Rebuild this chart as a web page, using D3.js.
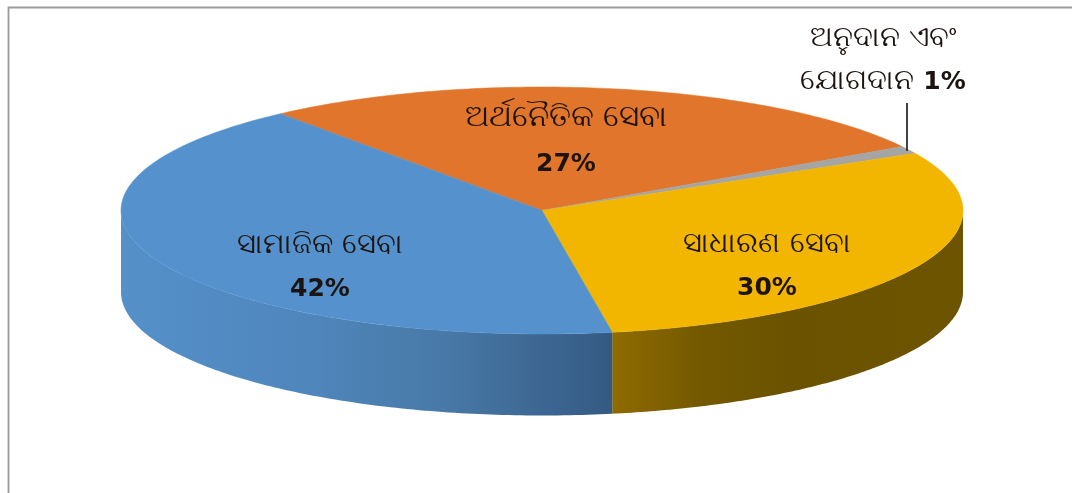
<!DOCTYPE html>
<html><head><meta charset="utf-8">
<style>
html,body{margin:0;background:#fff}
svg{display:block;filter:blur(0.45px)}
text{text-anchor:middle;fill:#1c1410}
.name{font-family:"DejaVu Sans",sans-serif}
.pct{font-family:"DejaVu Sans",sans-serif;font-size:25px;font-weight:700}
</style>
<script src="https://cdn.jsdelivr.net/npm/d3@7"></script></head>
<body><svg id="chart" width="1072" height="493"></svg>
<script>
// Data, clockwise from the back left edge of the pie.
const categories = ['ଅର୍ଥନୈତିକ ସେବା', 'ଅନୁଦାନ ଏବଂ ଯୋଗଦାନ', 'ସାଧାରଣ ସେବା', 'ସାମାଜିକ ସେବା'];
const shares = [27, 1, 30, 42];
const sliceColors = ['#e0752b', '#a5a5a5', '#f2b600', '#5592cd'];

const width = 1072, height = 493;
const cx = 542, cy = 210.5, rx = 421, ry = 123.5, depth = 81.5;
const rad = d => d * Math.PI / 180;
const startAngle = rad(-38.4);

const svg = d3.select('#chart');

// Unit circle to screen.
const x = d3.scaleLinear().domain([-1, 1]).range([cx - rx, cx + rx]);
const y = d3.scaleLinear().domain([-1, 1]).range([cy - ry, cy + ry]);
const px = a => x(Math.sin(a));
const py = a => y(-Math.cos(a));

const slices = d3.pie().sort(null).startAngle(startAngle).endAngle(startAngle + 2 * Math.PI)(shares);
const line = d3.line();
const steps = (a0, a1) => d3.range(0, 121).map(i => a0 + (a1 - a0) * i / 120);

// Outer frame, only top and left survive in the crop.
svg.append('path')
  .attr('d', `M8.5,${height + 4}V7.5H${width + 4}`)
  .attr('fill', 'none')
  .attr('stroke', '#9a9a9a')
  .attr('stroke-width', 1.8);

const defs = svg.append('defs');
function wallGradient(id, stops) {
  const g = defs.append('linearGradient').attr('id', id)
    .attr('gradientUnits', 'userSpaceOnUse')
    .attr('x1', cx - rx).attr('x2', cx + rx).attr('y1', 0).attr('y2', 0);
  stops.forEach(s => g.append('stop').attr('offset', (s[0] - (cx - rx)) / (2 * rx)).attr('stop-color', s[1]));
}
wallGradient('wall-3', [[121, '#5590c9'], [300, '#4f87bd'], [450, '#4878a6'], [612, '#345a83']]);
wallGradient('wall-2', [[612, '#8f6b00'], [700, '#745900'], [790, '#6a5200'], [963, '#6c5400']]);

// Side wall: only the front half of the rim shows.
slices.forEach((s, i) => {
  const a0 = Math.max(s.startAngle, rad(90)), a1 = Math.min(s.endAngle, rad(270));
  if (a1 <= a0) return;
  const top = steps(a0, a1).map(a => [px(a), py(a)]);
  const bottom = steps(a1, a0).map(a => [px(a), py(a) + depth]);
  svg.append('path')
    .attr('d', line(top.concat(bottom)) + 'Z')
    .attr('fill', `url(#wall-${i})`);
});

// Top face.
slices.forEach((s, i) => {
  const rim = steps(s.startAngle, s.endAngle).map(a => [px(a), py(a)]);
  svg.append('path')
    .attr('d', line([[cx, cy]].concat(rim)) + 'Z')
    .attr('fill', sliceColors[i])
    .attr('stroke', sliceColors[i])
    .attr('stroke-width', 0.5);
});

// Leader for the 1% slice.
svg.append('line')
  .attr('x1', 907).attr('x2', 907).attr('y1', 103).attr('y2', 151)
  .attr('stroke', '#2e2e2e').attr('stroke-width', 1.8);

// Labels.
const pct = i => shares[i] + '%';
function twoLine(i, tx, y1, y2, size) {
  svg.append('text').attr('class', 'name').attr('font-size', size).attr('x', tx).attr('y', y1).text(categories[i]);
  svg.append('text').attr('class', 'pct').attr('x', tx).attr('y', y2).text(pct(i));
}
twoLine(0, 566, 126, 171, 30.5);
twoLine(2, 767, 252, 295, 29);
twoLine(3, 320, 253, 296, 29);

const [w1, w2, w3] = categories[1].split(' ');
svg.append('text').attr('class', 'name').attr('font-size', 28.5).attr('x', 883).attr('y', 46).text(w1 + ' ' + w2);
const last = svg.append('text').attr('x', 883).attr('y', 89);
last.append('tspan').attr('class', 'name').attr('font-size', 28.5).text(w3 + ' ');
last.append('tspan').attr('class', 'pct').text(pct(1));
</script></body></html>
